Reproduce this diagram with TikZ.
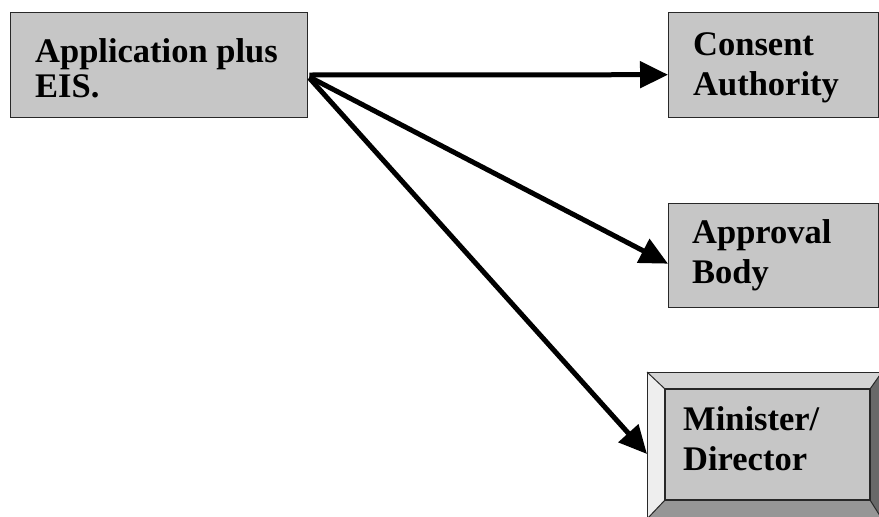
\documentclass[tikz,border=0pt]{standalone}
\usepackage{fontspec}
\setmainfont{Liberation Serif}
\usetikzlibrary{arrows.meta,calc}

\definecolor{boxgray}{RGB}{198,198,198}
\definecolor{edgedark}{RGB}{40,40,40}
\definecolor{bevtop}{RGB}{212,212,212}
\definecolor{bevleft}{RGB}{238,238,238}
\definecolor{bevright}{RGB}{105,105,105}
\definecolor{bevbottom}{RGB}{150,150,150}

\tikzset{
  flatbox/.style={draw=edgedark, line width=1.4pt, fill=boxgray,
    rectangle, inner sep=0pt, anchor=north west},
  bevelbox/.style={draw=edgedark, line width=1pt, fill=boxgray,
    rectangle, inner sep=0pt, anchor=north west},
  boxtext/.style={font=\bfseries\fontsize{34.5}{40}\selectfont,
    inner sep=0pt, anchor=base west, text=black},
  flow/.style={line width=5pt, draw=black,
    -{Triangle[length=28pt,width=26pt]}, shorten >=0pt}
}

\begin{document}
\begin{tikzpicture}[x=1pt,y=-1pt]
  \useasboundingbox (0,0) rectangle (879,517);

  % source box
  \node[flatbox, minimum width=297pt, minimum height=105pt] (app) at (10,12) {};
  \node[boxtext] (appA) at (35,62) {Application plus};
  \node[boxtext] (appB) at (35,97) {EIS.};

  % consent authority
  \node[flatbox, minimum width=210pt, minimum height=105pt] (consent) at (668,12) {};
  \node[boxtext] (conA) at (693,55) {Consent};
  \node[boxtext] (conB) at (693,95) {Authority};

  % approval body
  \node[flatbox, minimum width=210pt, minimum height=104pt] (approval) at (668,203) {};
  \node[boxtext] (aprA) at (692,243) {Approval};
  \node[boxtext] (aprB) at (692,283) {Body};

  % minister / director, bevelled button
  \node[bevelbox, minimum width=234pt, minimum height=146pt] (minister) at (647,372) {};
  \coordinate (iNW) at (665,389);
  \coordinate (iNE) at (870,389);
  \coordinate (iSE) at (870,500);
  \coordinate (iSW) at (665,500);
  \fill[bevtop] (minister.north west) -- (minister.north east) -- (iNE) -- (iNW) -- cycle;
  \fill[bevleft] (minister.north west) -- (iNW) -- (iSW) -- (minister.south west) -- cycle;
  \fill[bevright] (minister.north east) -- (iNE) -- (iSE) -- (minister.south east) -- cycle;
  \fill[bevbottom] (minister.south west) -- (iSW) -- (iSE) -- (minister.south east) -- cycle;
  \draw[edgedark, line width=1pt] (minister.north west) -- (iNW)
    (minister.north east) -- (iNE) (minister.south east) -- (iSE)
    (minister.south west) -- (iSW);
  \draw[edgedark, line width=1pt] (minister.north west) -- (minister.north east);
  \draw[edgedark, line width=1pt] (minister.north west) -- (minister.south west);
  \draw[edgedark, line width=1.8pt, fill=boxgray] (iNW) rectangle (iSE);
  \node[boxtext] (minA) at (683,430) {Minister/};
  \node[boxtext] (minB) at (683,470) {Director};

  % connectors
  \coordinate (src) at ($(app.north east)+(1,63)$);
  \draw[flow] (src) -- ([yshift=-9.5pt]consent.west);
  \draw[flow] ([yshift=-2pt]src) -- ([yshift=-8pt]approval.west);
  \draw[flow] ([yshift=-3pt]src) -- ([yshift=-8.5pt]minister.west);
\end{tikzpicture}
\end{document}
